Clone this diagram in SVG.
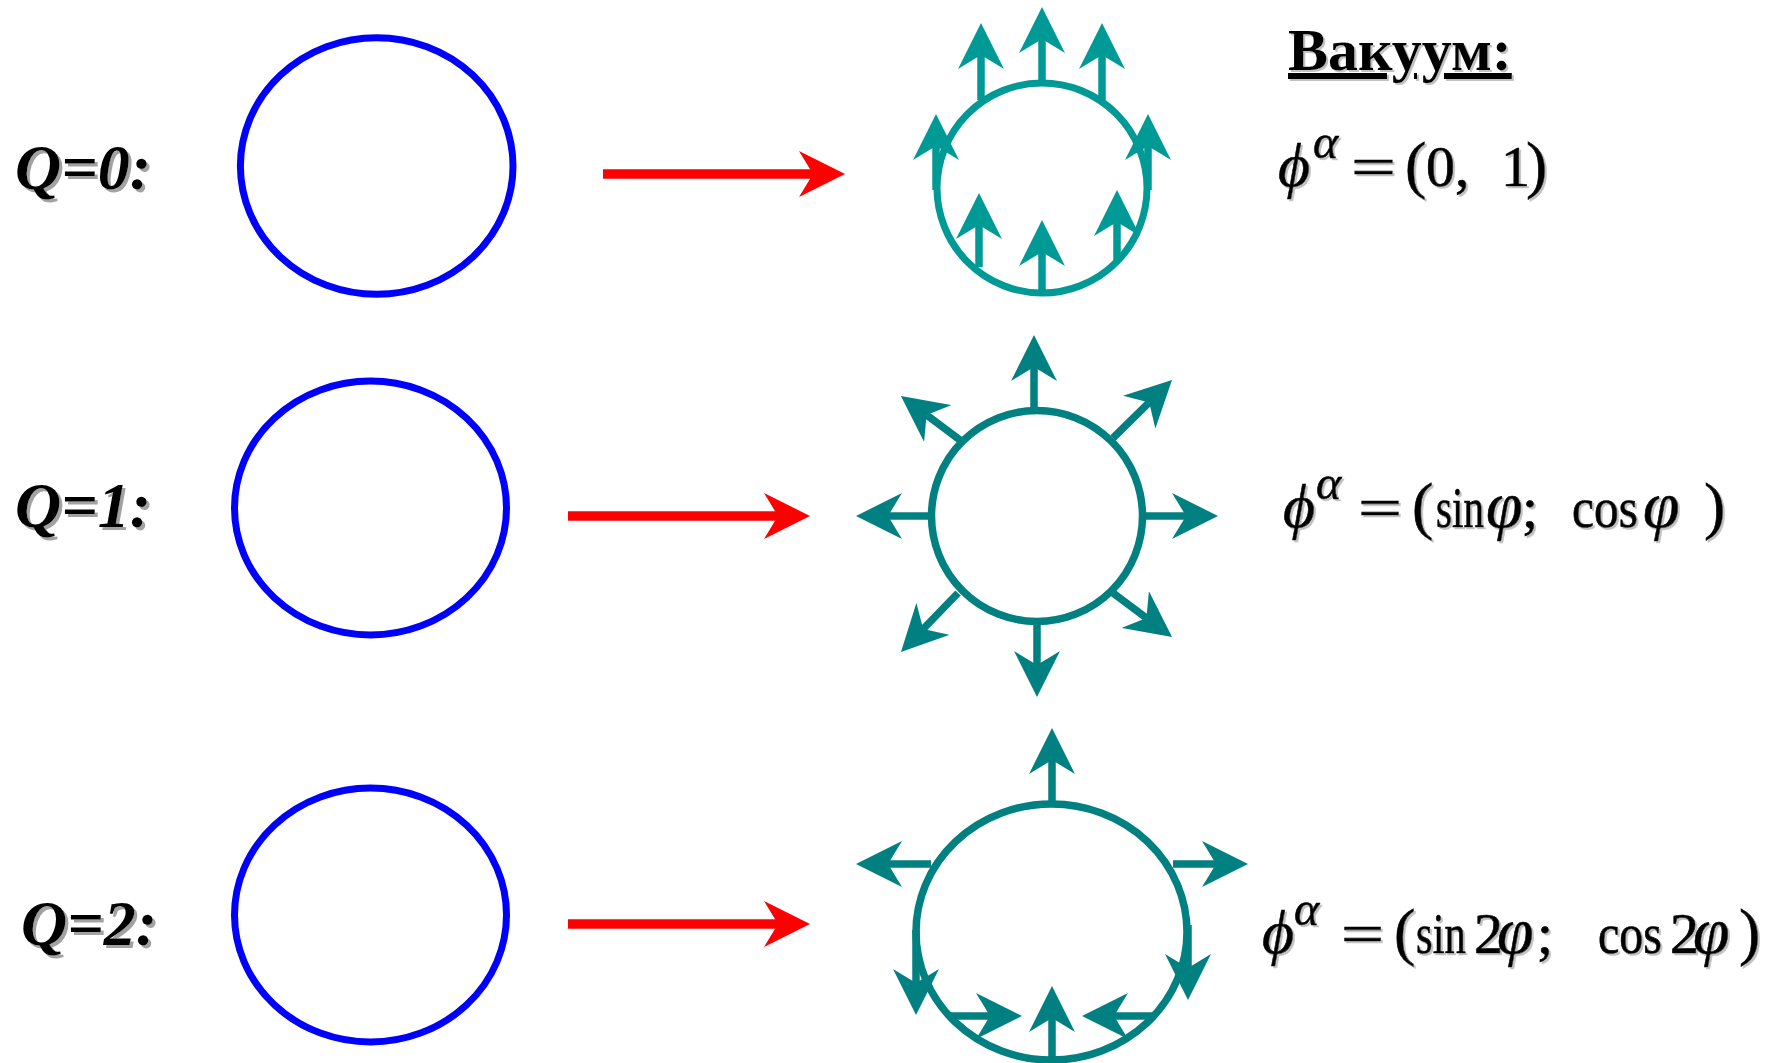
<svg xmlns="http://www.w3.org/2000/svg" width="1782" height="1063" viewBox="0 0 1782 1063">
<style>
.blue{fill:none;stroke:#0000ff;stroke-width:7}
.c0{fill:none;stroke:#009a96;stroke-width:7}
.c1{fill:none;stroke:#008080;stroke-width:7.5}
.a0{fill:none;stroke:#009a96;stroke-width:7.5;marker-end:url(#h0)}
.a1{fill:none;stroke:#008080;stroke-width:7.5;marker-end:url(#h1)}
.red{fill:none;stroke:#ff0000;stroke-width:9.5;marker-end:url(#hr)}
.q{font-family:"Liberation Serif","Times New Roman",serif;font-weight:bold;font-style:italic;font-size:64px;fill:#000}
.v{font-family:"Liberation Serif","Times New Roman",serif;font-weight:bold;font-size:60px;fill:#000;text-decoration:underline}
.m{font-family:"Liberation Serif","Times New Roman",serif;font-size:58px;fill:#000;stroke:#000;stroke-width:0.7}
.p{font-family:"Liberation Serif","Times New Roman",serif;font-size:64px;fill:#000;stroke:#000;stroke-width:0.6}
.i{font-family:"Liberation Serif","Times New Roman",serif;font-style:italic;font-size:62px;fill:#000;stroke:#000;stroke-width:0.6}
.f{font-family:"Liberation Serif","Times New Roman",serif;font-style:italic;font-size:66px;fill:#000;stroke:#000;stroke-width:0.6}
.s{font-family:"Liberation Serif","Times New Roman",serif;font-style:italic;font-size:48px;fill:#000;stroke:#000;stroke-width:0.6}
</style>
<defs>
<filter id="sh" x="-10%" y="-20%" width="130%" height="150%">
<feDropShadow dx="3" dy="3" stdDeviation="0.6" flood-color="#8a8a8a" flood-opacity="0.8"/>
</filter>
<filter id="sh2" x="-10%" y="-20%" width="130%" height="150%">
<feDropShadow dx="2" dy="2" stdDeviation="0.6" flood-color="#999" flood-opacity="0.6"/>
</filter>
<marker id="h0" markerUnits="userSpaceOnUse" markerWidth="46" markerHeight="46" viewBox="0 0 46 46" refX="14" refY="23" orient="auto"><path d="M46,23 L0,0 L14,23 L0,46 Z" fill="#009a96"/></marker>
<marker id="h1" markerUnits="userSpaceOnUse" markerWidth="46" markerHeight="46" viewBox="0 0 46 46" refX="14" refY="23" orient="auto"><path d="M46,23 L0,0 L14,23 L0,46 Z" fill="#008080"/></marker>
<marker id="hr" markerUnits="userSpaceOnUse" markerWidth="46" markerHeight="46" viewBox="0 0 46 46" refX="14" refY="23" orient="auto"><path d="M46,23 L0,0 L14,23 L0,46 Z" fill="#ff0000"/></marker>
</defs>
<rect width="1782" height="1063" fill="#fff"/>

<g id="label-q0"><text class="q" x="15" y="189" filter="url(#sh)">Q=0:</text></g>
<g id="label-q1"><text class="q" x="15" y="527" filter="url(#sh)">Q=1:</text></g>
<g id="label-q2"><text class="q" x="21" y="945" filter="url(#sh)">Q=2:</text></g>

<g id="loop-q0"><ellipse class="blue" cx="376.7" cy="166" rx="136.3" ry="128.3"/></g>
<g id="loop-q1"><ellipse class="blue" cx="370.5" cy="508" rx="136" ry="127"/></g>
<g id="loop-q2"><ellipse class="blue" cx="370.5" cy="915" rx="136" ry="127"/></g>

<g id="connectors">
<path class="red" d="M603,174 H813"/>
<path class="red" d="M568,516 H778"/>
<path class="red" d="M568,924 H778"/>
</g>

<g id="field-q0">
<circle class="c0" cx="1042" cy="188" r="105"/>
<path class="a0" d="M1042,86 V39"/>
<path class="a0" d="M981,100 V55"/>
<path class="a0" d="M1102,100 V55"/>
<path class="a0" d="M936,190 V146"/>
<path class="a0" d="M1148,190 V146"/>
<path class="a0" d="M979,267 V225"/>
<path class="a0" d="M1042,293 V252"/>
<path class="a0" d="M1117,262 V222"/>
</g>

<g id="field-q1">
<circle class="c1" cx="1037" cy="516" r="105.5"/>
<path class="a1" d="M1034,410 V367"/>
<path class="a1" d="M1142,516 H1186"/>
<path class="a1" d="M932,516 H888"/>
<path class="a1" d="M1037,622 V665"/>
<path class="a1" d="M1113,438 L1149.2,402.4"/>
<path class="a1" d="M960,440 L926.6,415.1"/>
<path class="a1" d="M958,593 L923.2,629"/>
<path class="a1" d="M1113,593 L1146.4,617.9"/>
</g>

<g id="field-q2">
<ellipse class="c1" cx="1051.5" cy="932" rx="135.5" ry="128"/>
<path class="a1" d="M1052,804 V760"/>
<path class="a1" d="M931,864 H888"/>
<path class="a1" d="M1173,864 H1216"/>
<path class="a1" d="M916,930 V983"/>
<path class="a1" d="M1188,925 V968"/>
<path class="a1" d="M948,1016 H990"/>
<path class="a1" d="M1155,1016 H1114"/>
<path class="a1" d="M1052,1060 V1018"/>
</g>

<g id="vacuum-title"><text class="v" x="1288" y="70" filter="url(#sh2)">Вакуум:</text></g>

<g id="formula-q0" filter="url(#sh2)">
<text class="i" x="1278" y="186">ϕ</text>
<text class="s" x="1313" y="158">α</text>
<text class="m" x="1351" y="186" textLength="45" lengthAdjust="spacingAndGlyphs">=</text>
<text class="p" x="1405" y="186">(</text>
<text class="m" x="1426" y="186">0,</text>
<text class="m" x="1501" y="186">1</text>
<text class="p" x="1526" y="186">)</text>
</g>

<g id="formula-q1" filter="url(#sh2)">
<text class="i" x="1283" y="527">ϕ</text>
<text class="s" x="1316" y="499">α</text>
<text class="m" x="1358" y="527" textLength="44" lengthAdjust="spacingAndGlyphs">=</text>
<text class="p" x="1412" y="527">(</text>
<text class="m" x="1436" y="527" textLength="48" lengthAdjust="spacingAndGlyphs">sin</text>
<text class="f" x="1486" y="527">φ</text>
<text class="m" x="1522" y="527">;</text>
<text class="m" x="1572" y="527" textLength="66" lengthAdjust="spacingAndGlyphs">cos</text>
<text class="f" x="1643" y="527">φ</text>
<text class="p" x="1704" y="527">)</text>
</g>

<g id="formula-q2" filter="url(#sh2)">
<text class="i" x="1262" y="953">ϕ</text>
<text class="s" x="1294" y="925">α</text>
<text class="m" x="1341" y="953" textLength="43" lengthAdjust="spacingAndGlyphs">=</text>
<text class="p" x="1394" y="953">(</text>
<text class="m" x="1416" y="953" textLength="50" lengthAdjust="spacingAndGlyphs">sin</text>
<text class="m" x="1474" y="953">2</text>
<text class="f" x="1497" y="953">φ</text>
<text class="m" x="1537" y="953">;</text>
<text class="m" x="1598" y="953" textLength="64" lengthAdjust="spacingAndGlyphs">cos</text>
<text class="m" x="1670" y="953">2</text>
<text class="f" x="1693" y="953">φ</text>
<text class="p" x="1739" y="953">)</text>
</g>
</svg>
